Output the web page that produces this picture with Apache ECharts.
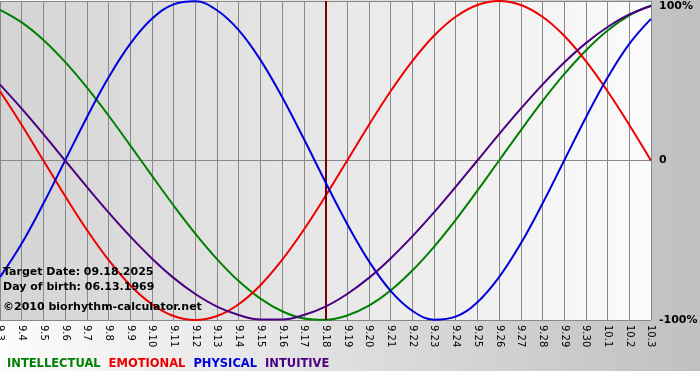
<!DOCTYPE html>
<html>
<head>
<meta charset="utf-8">
<script src="https://cdn.jsdelivr.net/npm/echarts@6/dist/echarts.min.js"></script>
<style>
html,body{margin:0;padding:0;background:#fff;}
#wrap{position:relative;width:700px;height:380px;background:#fff;}
#bg{position:absolute;left:0;top:0;width:700px;height:371px;background:linear-gradient(to right,#fcfcfc,#c0c0c0);}
#chart{position:absolute;left:0;top:0;width:700px;height:380px;}
</style>
</head>
<body>
<div id="wrap"><div id="bg"></div><div id="chart"></div></div>
<script>
const categories = ['9.3','9.4','9.5','9.6','9.7','9.8','9.9','9.10','9.11','9.12','9.13','9.14','9.15','9.16','9.17','9.18','9.19','9.20','9.21','9.22','9.23','9.24','9.25','9.26','9.27','9.28','9.29','9.30','10.1','10.2','10.3'];
const intellectual = [94.5,86.6,75.6,61.8,45.8,28.2,9.5,-9.5,-28.2,-45.8,-61.8,-75.6,-86.6,-94.5,-99.0,-99.9,-97.2,-91.0,-81.5,-69.0,-54.1,-37.2,-18.9,0,18.9,37.2,54.1,69.0,81.5,91.0,97.2];
const emotional = [43.4,22.3,0,-22.3,-43.4,-62.3,-78.2,-90.1,-97.5,-100,-97.5,-90.1,-78.2,-62.3,-43.4,-22.3,0,22.3,43.4,62.3,78.2,90.1,97.5,100,97.5,90.1,78.2,62.3,43.4,22.3,0];
const physical = [-73.1,-52.0,-27.0,0,27.0,52.0,73.1,88.8,97.9,99.8,94.2,81.7,63.1,39.8,13.6,-13.6,-39.8,-63.1,-81.7,-94.2,-99.8,-97.9,-88.8,-73.1,-52.0,-27.0,0,27.0,52.0,73.1,88.8];
const intuitive = [47.6,32.5,16.5,0,-16.5,-32.5,-47.6,-61.4,-73.6,-83.7,-91.6,-96.9,-99.7,-99.7,-96.9,-91.6,-83.7,-73.6,-61.4,-47.6,-32.5,-16.5,0,16.5,32.5,47.6,61.4,73.6,83.7,91.6,96.9];
const targetDay = '9.18';
const infoLines = ['Target Date: 09.18.2025','Day of birth: 06.13.1969','\u00a92010 biorhythm-calculator.net'];
const seriesNames = ['INTELLECTUAL','EMOTIONAL','PHYSICAL','INTUITIVE'];
const seriesColors = ['#008000','#ee0000','#0000dd','#4b0082'];
const seriesData = [intellectual, emotional, physical, intuitive];

const FONT = '"DejaVu Sans", Verdana, sans-serif';
const chart = echarts.init(document.getElementById('chart'), null, {renderer:'canvas'});
const series = seriesNames.map((n,i)=>({
  name:n, type:'line', data:seriesData[i], smooth:0.4, symbol:'none',
  lineStyle:{color:seriesColors[i], width:2}, itemStyle:{color:seriesColors[i]},
  z: 3 + i
}));
series[0].markLine = {
  silent:true, symbol:['none','none'], label:{show:false},
  lineStyle:{color:'#7a0000', width:2, type:'solid'},
  data:[{xAxis:targetDay}]
};
const infoY = [272, 287, 307];
chart.setOption({
  animation:false,
  backgroundColor:'transparent',
  grid:{left:0, right:49, top:1, bottom:60, show:true, borderWidth:0, containLabel:false, outerBoundsMode:'none',
    backgroundColor:{type:'linear', x:0, y:0, x2:1, y2:0, colorStops:[{offset:0,color:'#d4d4d4'},{offset:1,color:'#fbfbfb'}]}},
  legend:{left:-3, top:353, icon:'none', itemWidth:0, itemHeight:0, itemGap:3, selectedMode:false,
    textStyle:{fontFamily:FONT, fontWeight:'bold', fontSize:11.5},
    data:seriesNames.map((n,i)=>({name:n, textStyle:{color:seriesColors[i]}}))},
  xAxis:{type:'category', data:categories, boundaryGap:false,
    axisLine:{lineStyle:{color:'#888', width:1}},
    axisTick:{show:true, interval:0, length:4, lineStyle:{color:'#888'}},
    splitLine:{show:true, interval:0, lineStyle:{color:'#888', width:1}},
    axisLabel:{interval:0, rotate:-90, fontSize:10, color:'#000', fontFamily:FONT, margin:5}},
  yAxis:{type:'value', position:'right', min:-100, max:100, interval:100,
    axisLine:{show:false}, axisTick:{show:false},
    splitLine:{show:true, lineStyle:{color:'#888', width:1}},
    axisLabel:{margin:8, color:'#000', fontFamily:FONT, fontWeight:'bold', fontSize:11,
      formatter:function(v){ if(v===100) return '{t|100%}'; return v===0 ? '0' : v+'%'; },
      rich:{t:{padding:[10,0,0,0], fontFamily:FONT, fontWeight:'bold', fontSize:11, color:'#000'}}}},
  graphic: infoLines.map((t,i)=>({type:'text', x:3, y:infoY[i], z:100,
    style:{text:t, fill:'#000', font:'bold 11px '+FONT, verticalAlign:'middle'}})),
  series: series
});
</script>
</body>
</html>
